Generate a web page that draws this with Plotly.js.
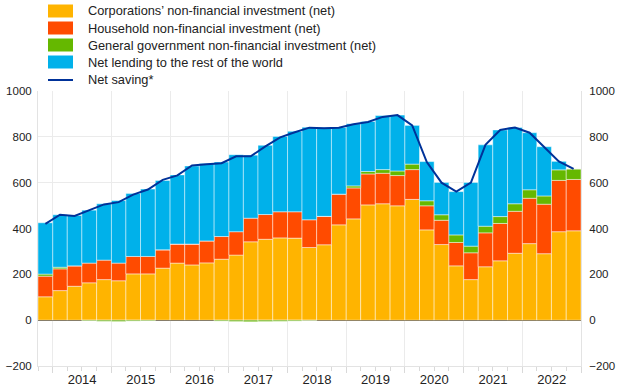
<!DOCTYPE html>
<html>
<head>
<meta charset="utf-8">
<script src="https://cdn.plot.ly/plotly-3.0.1.min.js"></script>
<style>html,body{margin:0;padding:0;background:#fff;}#chart{width:620px;height:388px;}</style>
</head>
<body>
<div id="chart"></div>
<script>
const quarters = ['2013Q4',
  '2014Q1','2014Q2','2014Q3','2014Q4',
  '2015Q1','2015Q2','2015Q3','2015Q4',
  '2016Q1','2016Q2','2016Q3','2016Q4',
  '2017Q1','2017Q2','2017Q3','2017Q4',
  '2018Q1','2018Q2','2018Q3','2018Q4',
  '2019Q1','2019Q2','2019Q3','2019Q4',
  '2020Q1','2020Q2','2020Q3','2020Q4',
  '2021Q1','2021Q2','2021Q3','2021Q4',
  '2022Q1','2022Q2','2022Q3','2022Q4'];

const corporations = [102,129,148,163,177,172,202,202,227,249,241,250,266,284,342,353,359,358,317,329,416,442,503,508,499,527,394,330,237,177,233,259,292,334,290,386,390];
const households   = [90,95,89,86,85,77,76,76,80,83,91,96,99,102,103,108,114,115,121,124,134,135,135,133,132,130,105,106,102,117,148,163,183,198,216,224,224];
const government   = [9,7,0,-3,-5,-6,-4,-3,0,0,0,0,-4,-6,-7,-6,-5,-4,-2,0,0,9,11,16,20,24,22,24,33,29,29,30,33,37,36,46,46];
const netLending   = [224,229,220,231,246,273,275,294,303,302,341,338,325,336,275,302,329,351,404,388,291,271,218,236,244,169,171,141,189,278,355,378,333,249,215,37,0];
const netSaving    = [420,460,455,480,505,515,548,570,612,632,675,680,685,715,715,758,798,820,840,838,840,855,865,887,895,850,690,600,561,600,765,830,841,818,757,693,660];

const seriesNames = ["Corporations\u2019 non-financial investment (net)",
  "Household non-financial investment (net)",
  "General government non-financial investment (net)",
  "Net lending to the rest of the world",
  "Net saving*"];
const colors = ['#FFB400','#FF4B00','#65B800','#00B1EA','#003299'];

function qRange(q){
  const y = +q.slice(0,4), n = +q.slice(5);
  const s = Date.UTC(y,(n-1)*3,1), e = Date.UTC(y,n*3,1);
  return [s,e];
}
const xs = quarters.map(q=>{const r=qRange(q);return new Date((r[0]+r[1])/2).toISOString();});
const ws = quarters.map(q=>{const r=qRange(q);return r[1]-r[0];});

const barSeries = [corporations, households, government, netLending];
const traces = barSeries.map((d,i)=>({
  type:'bar', x:xs, y:d, width:ws, name:seriesNames[i], showlegend:false,
  marker:{color:colors[i], line:{color:'rgba(255,255,255,0.45)', width:1}},
  hoverinfo:'x+y'
}));
traces.push({type:'scatter', mode:'lines', x:xs, y:netSaving, name:seriesNames[4], showlegend:false,
  line:{color:colors[4], width:2}});
traces.push({type:'scatter', mode:'lines', x:xs, y:netSaving, yaxis:'y2', showlegend:false,
  line:{width:0}, opacity:0, hoverinfo:'skip'});

// manual legend (px -> paper)
const L=38, W=543, B=366, H=275;
const px = v=>(v-L)/W, py = v=>(B-v)/H;
const shapes=[], annotations=[];
const rows=[11,28,45,62,80];
seriesNames.forEach((nm,i)=>{
  const cy = rows[i];
  if(i<4){
    shapes.push({type:'rect', xref:'paper', yref:'paper', x0:px(48), x1:px(73), y0:py(cy+6.5), y1:py(cy-6.5),
      fillcolor:colors[i], line:{width:0}});
  } else {
    shapes.push({type:'line', xref:'paper', yref:'paper', x0:px(48), x1:px(73), y0:py(cy), y1:py(cy),
      line:{color:colors[i], width:2}});
  }
  annotations.push({xref:'paper', yref:'paper', x:px(86), y:py(cy), xanchor:'left', yanchor:'middle',
    text:nm, showarrow:false, font:{size:12.8, color:'#222'}});
});

const yax = {range:[-200,1000], dtick:200, tick0:0, gridcolor:'#ebebeb', gridwidth:1,
  zeroline:true, zerolinecolor:'#333', zerolinewidth:1, ticks:'', tickfont:{size:11.5, color:'#222'},
  ticklabelstandoff:3,
  showline:true, linecolor:'#e3e3e3', linewidth:1, fixedrange:true};

const layout = {
  width:620, height:388,
  margin:{l:38, r:39, t:91, b:22},
  paper_bgcolor:'#fff', plot_bgcolor:'#fff',
  font:{family:'Arial, "Liberation Sans", sans-serif', color:'#222'},
  barmode:'relative', bargap:0,
  xaxis:{type:'date', range:['2013-10-01','2023-01-01'], dtick:'M12', tick0:'2014-01-01',
    ticklabelmode:'period', tickformat:'%Y', showgrid:true, gridcolor:'#ebebeb',
    ticks:'outside', ticklen:6, tickcolor:'#d9d9d9', tickfont:{size:13, color:'#222'},
    ticklabelstandoff:-5,
    minor:{dtick:'M3', ticks:'outside', ticklen:4, tickcolor:'#d9d9d9', showgrid:false},
    showline:true, linecolor:'#e3e3e3', zeroline:false},
  yaxis:yax,
  yaxis2:Object.assign({}, yax, {overlaying:'y', side:'right', showgrid:false, zeroline:false, ticklabelstandoff:5}),
  shapes:shapes, annotations:annotations,
  showlegend:false
};

Plotly.newPlot('chart', traces, layout, {displayModeBar:false, staticPlot:true});
</script>
</body>
</html>
